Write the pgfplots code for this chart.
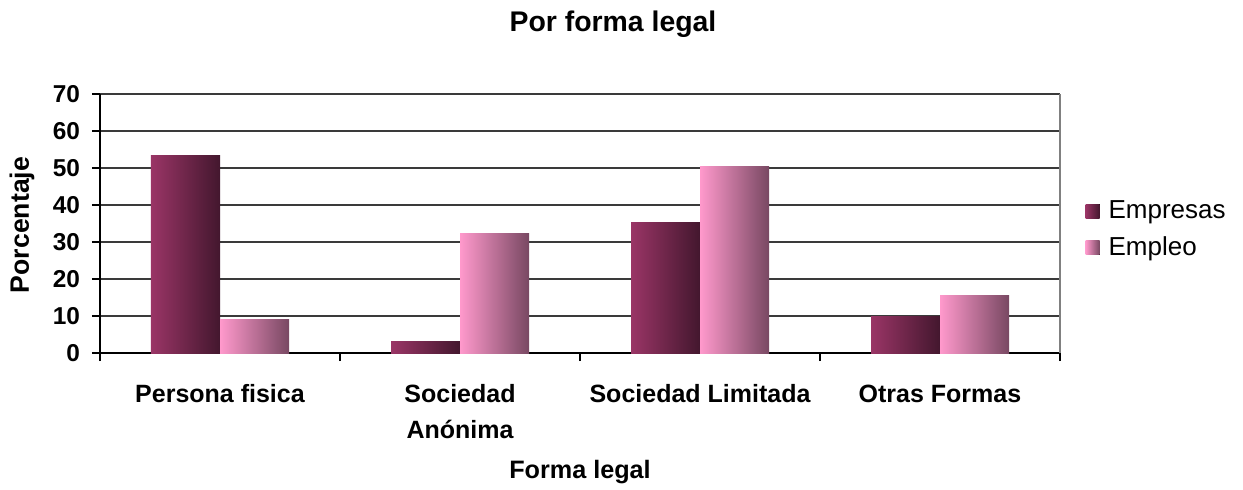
\documentclass[border=0pt]{standalone}
\usepackage{pgfplots}
\pgfplotsset{compat=1.18}
\usepackage{fontspec}
\setmainfont{Liberation Sans}
\definecolor{empL}{HTML}{9A3566}
\definecolor{empR}{HTML}{43172E}
\definecolor{emoL}{HTML}{FF99CC}
\definecolor{emoR}{HTML}{784862}
\definecolor{gridc}{HTML}{3A3A3A}
\begin{document}
\begin{tikzpicture}
\useasboundingbox (0,0) rectangle (621.5pt,-244.5pt);
\node[font=\fontsize{14.2}{16}\selectfont\bfseries] at (306.5pt,-12pt) {Por forma legal};
\node[font=\fontsize{13.3}{15}\selectfont\bfseries, rotate=90] at (11pt,-112.5pt) {Porcentaje};
\node[font=\fontsize{12.6}{14}\selectfont\bfseries] at (290pt,-236pt) {Forma legal};
\begin{axis}[
  at={(50pt,-176.5pt)}, anchor=south west,
  scale only axis, width=480pt, height=129.5pt,
  ybar, bar width=34.5pt,
  xmin=-0.5, xmax=3.5, ymin=0, ymax=70,
  xtick={0,1,2,3},
  xticklabels={Persona fisica\strut, {Sociedad\strut\\Anónima}, Sociedad Limitada\strut, Otras Formas\strut},
  minor xtick={-0.5,0.5,1.5,2.5,3.5},
  major x tick style={draw=none},
  minor x tick style={black, line width=0.6pt},
  minor tick length=4pt,
  ytick={0,10,...,70},
  axis lines=left,
  axis line style={black, line width=0.7pt, -},
  ymajorgrids, major grid style={gridc, line width=0.6pt},
  extra x ticks={3.5}, extra x tick labels={},
  extra x tick style={grid=major, major grid style={gray, line width=0.6pt}, major tick length=0pt},
  y tick style={black, line width=0.6pt},
  major tick length=4pt,
  tick align=outside,
  /pgf/number format/assume math mode=true,
  yticklabel style={font=\fontsize{12.2}{14}\selectfont\bfseries, xshift=-2.5pt},
  xticklabel style={font=\fontsize{12.5}{17.8}\selectfont\bfseries, align=center, anchor=north, yshift=-4.8pt},
  legend style={at={(1.020,0.62)}, anchor=north west, draw=none, fill=none,
    font=\fontsize{13}{15}\selectfont, row sep=3.5pt,
    /tikz/every odd column/.append style={column sep=2.5pt}},
  legend cell align=left,
  legend image code/.code={\fill[#1] (0pt,-3.5pt) rectangle (7pt,3.5pt);},
]
\addplot[draw=none, bar shift=-17.25pt, left color=empL, right color=empR] coordinates {(0,53.3)};
\addplot[draw=none, bar shift=17.25pt, left color=emoL, right color=emoR] coordinates {(0,9.1)};
\addplot[forget plot, draw=none, bar shift=-17.25pt, left color=empL, right color=empR] coordinates {(1,3.2)};
\addplot[forget plot, draw=none, bar shift=-17.25pt, left color=empL, right color=empR] coordinates {(2,35.2)};
\addplot[forget plot, draw=none, bar shift=-17.25pt, left color=empL, right color=empR] coordinates {(3,9.9)};
\addplot[forget plot, draw=none, bar shift=17.25pt, left color=emoL, right color=emoR] coordinates {(1,32.4)};
\addplot[forget plot, draw=none, bar shift=17.25pt, left color=emoL, right color=emoR] coordinates {(2,50.3)};
\addplot[forget plot, draw=none, bar shift=17.25pt, left color=emoL, right color=emoR] coordinates {(3,15.6)};
\legend{Empresas, Empleo}
\end{axis}
\end{tikzpicture}
\end{document}
